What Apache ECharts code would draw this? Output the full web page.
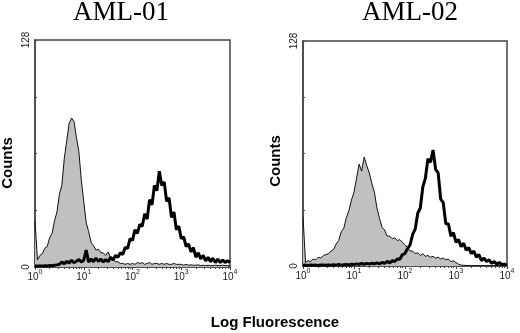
<!DOCTYPE html>
<html><head><meta charset="utf-8">
<script src="https://cdn.jsdelivr.net/npm/echarts@6/dist/echarts.min.js"></script>
<style>html,body{margin:0;padding:0;background:#fff}#c{width:520px;height:333px}</style>
</head><body><div id="c"></div>
<script>
// ---- data (counts per log-channel, channels every 0.05 decade from 10^0 to 10^4) ----
const panelTitles = ['AML-01', 'AML-02'];
const decadeTicks = [0, 1, 2, 3, 4];
const yTickLabels = [0, 128];
const channelStep = 0.05;
const control01 = [26,4,6.5,7.5,10.5,11.5,16.5,19,26,31,
  41,46,61,71,81,84,82,73,65,49,
  37,25,20,14,12,9.5,10,8,8,6.5,
  8.5,5,4.5,3,3,2,2,1.5,2,1.5,
  2,1.5,2.5,2,2.5,1.5,2,2.5,1.5,2,
  2,1.5,2,1.5,2,1.5,1.5,2,1.5,1.5,
  1.5,1,1.5,1,1.2,1,1,1.2,0.8,1,
  0.8,1,0.8,0.8,1,0.8,0.8,1,0.8,0.8,0.8];
const stained01 = [0.5,0.5,0.6,0.5,0.7,0.6,0.8,0.7,1,1.2,
  1.5,2.8,1.8,3.2,2.2,3.8,2.4,3.2,4.2,2.8,
  3.8,9.5,2.8,4.5,3,5,3.2,4.5,2.8,4.2,
  3,5.5,4,6.5,5.5,8,7,11,10.5,16,
  15,21,19,24,23,30,27,38,35,46,
  43,54,46,48,37,39,28,31,21,23,
  16,17,11.5,13,8.5,11,5.5,8,4.5,6.5,
  3.5,5.5,3,5,2.5,4.5,2.5,4,2.5,3.5,2.5];
const control02 = [28,2,3,2.5,4,3.5,5,4.5,6,6.5,
  7,8.5,9.5,12.5,14.5,19.5,21.5,27.5,31.5,37.5,
  42,50,58,54,62,57,53,47,42,33,
  27,22,20.5,17,17,15.5,16,14.5,15,13.5,
  12,10.5,8.5,8.5,7,7.5,6,7,5.5,6,
  5,5.5,4.5,5,4,4.5,3.5,4,2.5,3,
  2,1,0.5,0.4,0.3,0.3,0.3,0.3,0.3,0.3,
  0.3,0.3,0.3,0.3,0.3,0.3,0.3,0.3,0.3,0.3,0.3];
const stained02 = [0.4,0.5,0.3,0.6,0.4,0.5,0.3,0.6,0.5,0.4,
  0.6,0.4,0.7,0.5,0.8,0.5,0.7,0.9,0.6,1,
  0.8,1.2,0.9,1.4,1,1.5,1.1,1.6,1.2,1.8,
  1.2,2,1.5,2.6,1.8,3,2.6,4,3.8,6.5,
  7,10,12,18,21,30,33,45,50,61,
  59,66,55,53,38,36,24,24,17,19,
  13.5,15,11,13,9,10.5,7,8.5,5,6.5,
  3,4.5,2.5,3.5,1.5,2.5,1,2,0.8,1,0.5];

const toPairs = arr => arr.map((v, i) => [i * channelStep, v]);
const minorTicks = [];
decadeTicks.slice(0, -1).forEach(d => { for (let k = 2; k <= 9; k++) minorTicks.push(d + Math.log10(k)); });

const grids = [
  {left: 35, top: 40, width: 195, height: 227},
  {left: 303, top: 41, width: 204, height: 225}
];
const frame = '#444';

const option = {
  animation: false,
  backgroundColor: '#fff',
  grid: grids.map(g => Object.assign({show: true, borderColor: frame, borderWidth: 1.5, backgroundColor: 'transparent'}, g)),
  xAxis: [],
  yAxis: [],
  series: [],
  graphic: []
};

[0, 1].forEach(p => {
  option.xAxis.push({
    gridIndex: p, type: 'value', min: 0, max: 4, interval: 1,
    axisLine: {show: true, lineStyle: {color: frame, width: 1.5}},
    axisTick: {show: true, inside: false, length: 3, lineStyle: {color: frame}},
    splitLine: {show: false},
    axisLabel: {
      margin: 2, color: '#222',
      formatter: v => '{b|10}{s|' + v + '}',
      rich: {
        b: {fontSize: 10, fontFamily: 'Liberation Sans', verticalAlign: 'bottom', lineHeight: 13, color: '#222'},
        s: {fontSize: 7, fontFamily: 'Liberation Sans', verticalAlign: 'top', lineHeight: 13, color: '#222'}
      }
    }
  });
  option.xAxis.push({
    gridIndex: p, type: 'value', min: 0, max: 4, position: 'bottom',
    axisLine: {show: false},
    axisTick: {show: true, length: 2, customValues: minorTicks, lineStyle: {color: frame}},
    axisLabel: {show: false},
    splitLine: {show: false}
  });
  option.yAxis.push({
    gridIndex: p, type: 'value', min: 0, max: 128, interval: 32,
    axisLine: {show: true, lineStyle: {color: frame, width: 1.5}},
    axisTick: {show: true, inside: true, length: 2, lineStyle: {color: frame}},
    splitLine: {show: false},
    axisLabel: {
      rotate: 90, fontSize: 10, fontFamily: 'Liberation Sans', color: '#222', margin: 4,
      formatter: v => yTickLabels.includes(v) ? String(v) : ''
    }
  });
  const ctrl = p === 0 ? control01 : control02;
  const stain = p === 0 ? stained01 : stained02;
  option.series.push({
    type: 'line', xAxisIndex: p * 2, yAxisIndex: p, data: toPairs(ctrl),
    showSymbol: false, z: 2,
    lineStyle: {color: '#111', width: 1},
    areaStyle: {color: '#c0c0c0', opacity: 1}
  });
  option.series.push({
    type: 'line', xAxisIndex: p * 2, yAxisIndex: p, data: toPairs(stain),
    showSymbol: false, z: 3,
    lineStyle: {color: '#000', width: 3}
  });
});

option.graphic = [
  {type: 'text', x: 121, y: 13, style: {text: panelTitles[0], font: '27px "Liberation Serif"', fill: '#000', textAlign: 'center', textVerticalAlign: 'middle'}},
  {type: 'text', x: 410, y: 13, style: {text: panelTitles[1], font: '27px "Liberation Serif"', fill: '#000', textAlign: 'center', textVerticalAlign: 'middle'}},
  {type: 'text', x: 8, y: 163, rotation: Math.PI / 2, style: {text: 'Counts', font: 'bold 15px "Liberation Sans"', fill: '#000', textAlign: 'center', textVerticalAlign: 'middle'}},
  {type: 'text', x: 276, y: 161, rotation: Math.PI / 2, style: {text: 'Counts', font: 'bold 15px "Liberation Sans"', fill: '#000', textAlign: 'center', textVerticalAlign: 'middle'}},
  {type: 'text', x: 275, y: 323, style: {text: 'Log Fluorescence', font: 'bold 15px "Liberation Sans"', fill: '#000', textAlign: 'center', textVerticalAlign: 'middle'}}
];

echarts.init(document.getElementById('c'), null, {renderer: 'canvas'}).setOption(option);
</script>
</body></html>
